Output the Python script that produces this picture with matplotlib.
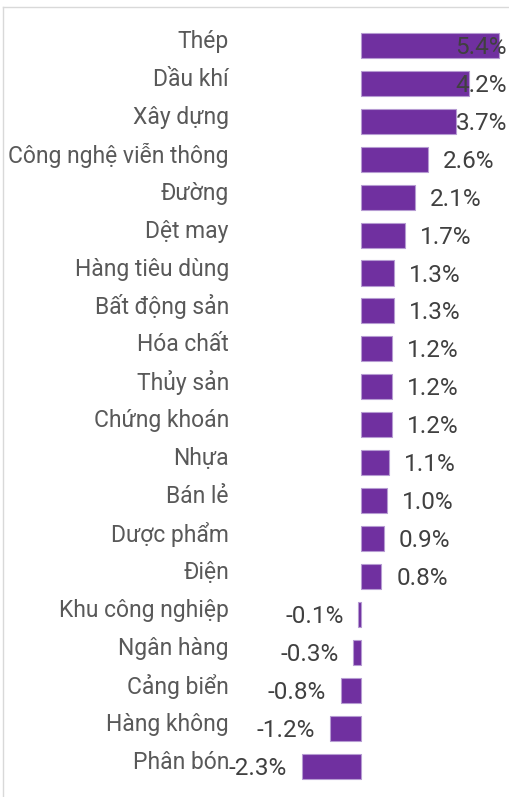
import matplotlib
matplotlib.use('Agg')
import matplotlib.pyplot as plt
import matplotlib.transforms as mtransforms
from matplotlib.lines import Line2D

plt.rcParams['font.family'] = ['Roboto', 'DejaVu Sans']

sectors = ['Thép', 'Dầu khí', 'Xây dựng', 'Công nghệ viễn thông', 'Đường',
           'Dệt may', 'Hàng tiêu dùng', 'Bất động sản', 'Hóa chất', 'Thủy sản',
           'Chứng khoán', 'Nhựa', 'Bán lẻ', 'Dược phẩm', 'Điện',
           'Khu công nghiệp', 'Ngân hàng', 'Cảng biển', 'Hàng không', 'Phân bón']
change = [5.4, 4.2, 3.7, 2.6, 2.1, 1.7, 1.3, 1.3, 1.2, 1.2,
          1.2, 1.1, 1.0, 0.9, 0.8, -0.1, -0.3, -0.8, -1.2, -2.3]

W, H = 510, 797
fig = plt.figure(figsize=(W / 100, H / 100), dpi=100)

# axes placed in pixel terms: zero line at x=361, 25.6 px per 1%
left_px, right_px = 240, 505
top_px, bot_px = 26.5, 785
ax = fig.add_axes([left_px / W, 1 - bot_px / H,
                   (right_px - left_px) / W, (bot_px - top_px) / H])
scale = 25.6
ax.set_xlim(-(361 - left_px) / scale, (right_px - 361) / scale)
n = len(sectors)
ax.set_ylim(n - 0.5, -0.5)

pos = list(range(n))
ax.barh(pos, change, height=0.66, color='#7030A0', edgecolor='#b69bd2', linewidth=0.8)

ax.set_xticks([])
ax.set_yticks([])
for s in ax.spines.values():
    s.set_visible(False)

px = 72 / 100  # points per pixel
fs = 16.5
fs_val = 17.5
side = mtransforms.blended_transform_factory(ax.transAxes, ax.transData)

# category names, right aligned left of the plot
for p, name in zip(pos, sectors):
    ax.annotate(name, (0, p), xycoords=side, xytext=(-11 * px, 4 * px), textcoords='offset points',
                ha='right', va='center', fontsize=fs, color='#595959', annotation_clip=False)

# value labels: outside end, pushed inside the chart edge when too long
offset = 15 * px
for p, v in zip(pos, change):
    txt = f'{v:.1f}%'
    if v > 3.0:
        ax.annotate(txt, (1.0, p), xycoords=side, xytext=(2 * px, -2 * px), textcoords='offset points',
                    ha='right', va='center', fontsize=fs_val, color='#404040', annotation_clip=False)
    elif v >= 0:
        ax.annotate(txt, (v, p), xytext=(offset, -2 * px), textcoords='offset points',
                    ha='left', va='center', fontsize=fs_val, color='#404040')
    else:
        ax.annotate(txt, (v, p), xytext=(-offset, -2 * px), textcoords='offset points',
                    ha='right', va='center', fontsize=fs_val, color='#404040')

# light frame of the chart area (top and left edges visible)
fig.add_artist(Line2D([3 / W, 3 / W], [0, 1 - 7 / H], transform=fig.transFigure,
                      color='#d9d9d9', linewidth=1))
fig.add_artist(Line2D([3 / W, 1], [1 - 7 / H, 1 - 7 / H], transform=fig.transFigure,
                      color='#d9d9d9', linewidth=1))

fig.savefig('out.png', dpi=100)
